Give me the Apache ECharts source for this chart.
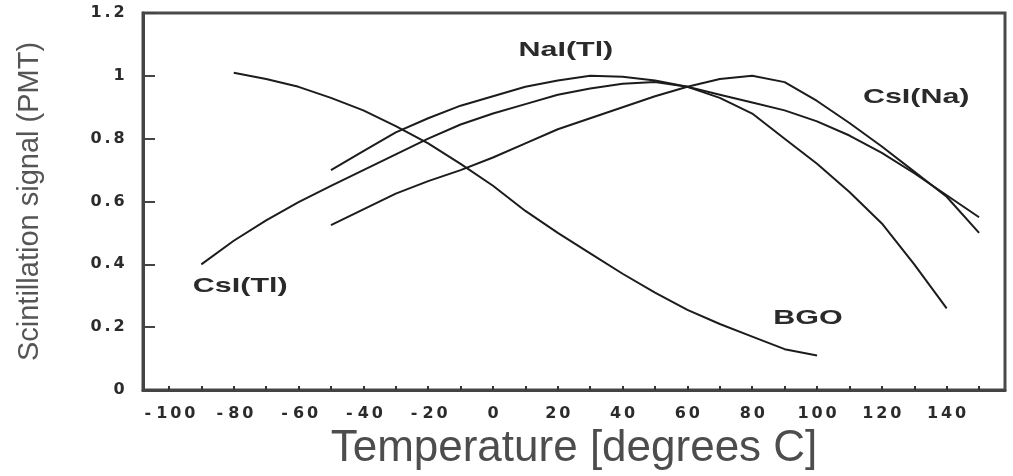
<!DOCTYPE html>
<html>
<head>
<meta charset="utf-8">
<script src="https://cdn.jsdelivr.net/npm/echarts@6/dist/echarts.min.js"></script>
<style>
  html, body { margin: 0; padding: 0; background: #ffffff; }
  #chart { width: 1013px; height: 476px; }
</style>
</head>
<body>
<div id="chart"></div>
<script>
// Relative scintillation signal (PMT) versus temperature for four crystals.
const csiTlTemps = [-90, -80, -70, -60, -50, -40, -30, -20, -10, 0, 10, 20, 30, 40, 50, 60, 70, 80, 90, 100, 110, 120, 130, 140];
const csiTlSignal = [0.40, 0.475, 0.54, 0.598, 0.65, 0.70, 0.75, 0.80, 0.845, 0.88, 0.91, 0.94, 0.96, 0.975, 0.98, 0.965, 0.93, 0.88, 0.80, 0.72, 0.63, 0.53, 0.40, 0.26];

const naiTlTemps = [-50, -40, -30, -20, -10, 0, 10, 20, 30, 40, 50, 60, 70, 80, 90, 100, 110, 120, 130, 140, 150];
const naiTlSignal = [0.70, 0.76, 0.82, 0.865, 0.905, 0.935, 0.965, 0.985, 1.0, 0.997, 0.985, 0.965, 0.94, 0.915, 0.89, 0.855, 0.81, 0.755, 0.69, 0.62, 0.55];

const csiNaTemps = [-50, -40, -30, -20, -10, 0, 10, 20, 30, 40, 50, 60, 70, 80, 90, 100, 110, 120, 130, 140, 150];
const csiNaSignal = [0.525, 0.575, 0.625, 0.665, 0.70, 0.74, 0.785, 0.83, 0.865, 0.90, 0.935, 0.965, 0.99, 1.0, 0.98, 0.92, 0.85, 0.775, 0.695, 0.615, 0.50];

const bgoTemps = [-80, -70, -60, -50, -40, -30, -20, -10, 0, 10, 20, 30, 40, 50, 60, 70, 80, 90, 100];
const bgoSignal = [1.01, 0.99, 0.965, 0.93, 0.89, 0.84, 0.785, 0.72, 0.65, 0.57, 0.50, 0.435, 0.37, 0.31, 0.255, 0.21, 0.17, 0.13, 0.11];

// Axis ticks and labels
const xLabelValues = [-100, -80, -60, -40, -20, 0, 20, 40, 60, 80, 100, 120, 140];
const xTickValues = [-100, -90, -80, -70, -60, -50, -40, -30, -20, -10, 0, 10, 20, 30, 40, 50, 60, 70, 80, 90, 100, 110, 120, 130, 140, 150];

// Curve names, and where each name sits in data units [temperature, signal]
const curveNames = ['CsI(Tl)', 'NaI(Tl)', 'CsI(Na)', 'BGO'];
const nameAnchors = [[-78, 0.331], [22.5, 1.08], [130.6, 0.933], [97.2, 0.229]];

const pairs = (xs, ys) => xs.map((x, i) => [x, ys[i]]);

// Tick labels are set with each character in its own fixed-width cell
const spaced = (v) => String(v).split('').map(ch => (ch === '.' ? '{p|.}' : '{d|' + ch + '}')).join('');
const tickFont = '"DejaVu Sans", Verdana, sans-serif';
const tickSize = 16;
const makeRich = (size) => {
  const base = { fontSize: size, fontWeight: 'bold', fontFamily: tickFont, color: '#2b2b2b', align: 'center', lineHeight: size + 1 };
  return { d: Object.assign({ width: 14 }, base), p: Object.assign({ width: 9 }, base) };
};

const lineColor = '#1c1c1c';
const makeSeries = (name, xs, ys) => ({
  name: name,
  type: 'line',
  data: pairs(xs, ys),
  showSymbol: false,
  symbol: 'none',
  smooth: false,
  lineStyle: { color: lineColor, width: 2 },
  silent: true,
  animation: false
});

const chart = echarts.init(document.getElementById('chart'), null, { renderer: 'canvas' });

chart.setOption({
  backgroundColor: '#ffffff',
  animation: false,
  grid: {
    left: 143, right: 8, top: 13, bottom: 86,
    show: true, borderColor: '#4a4a4a', borderWidth: 3, backgroundColor: 'transparent'
  },
  xAxis: {
    type: 'value',
    min: -108, max: 158,
    name: 'Temperature [degrees C]',
    nameLocation: 'middle',
    nameGap: 36,
    nameTextStyle: { fontSize: 44, color: '#4d4d4d', fontFamily: '"Liberation Sans", Arial, sans-serif' },
    axisLine: { show: true, onZero: false, lineStyle: { color: '#444', width: 3 } },
    axisTick: { show: true, inside: true, length: 4, customValues: xTickValues, lineStyle: { color: '#333', width: 2 } },
    axisLabel: { show: true, margin: 15, fontSize: tickSize, fontWeight: 'bold', fontFamily: tickFont, color: '#2b2b2b', customValues: xLabelValues, formatter: spaced, rich: makeRich(tickSize) },
    splitLine: { show: false }
  },
  yAxis: {
    type: 'value',
    min: 0, max: 1.2, interval: 0.2,
    name: 'Scintillation signal (PMT)',
    nameLocation: 'middle',
    nameGap: 99,
    nameRotate: 90,
    nameTextStyle: { fontSize: 29, color: '#555', fontFamily: '"Liberation Sans", Arial, sans-serif' },
    axisLine: { show: true, onZero: false, lineStyle: { color: '#444', width: 3 } },
    axisTick: { show: true, inside: true, length: 12, lineStyle: { color: '#444', width: 2 } },
    axisLabel: { show: true, margin: 17, fontSize: tickSize, fontWeight: 'bold', fontFamily: tickFont, color: '#2b2b2b', formatter: spaced, rich: makeRich(tickSize) },
    splitLine: { show: false }
  },
  series: [
    makeSeries(curveNames[0], csiTlTemps, csiTlSignal),
    makeSeries(curveNames[1], naiTlTemps, naiTlSignal),
    makeSeries(curveNames[2], csiNaTemps, csiNaSignal),
    makeSeries(curveNames[3], bgoTemps, bgoSignal)
  ]
});

// Curve names placed through the grid's own coordinate conversion
const nameGraphics = curveNames.map((name, i) => {
  const p = chart.convertToPixel({ gridIndex: 0 }, nameAnchors[i]);
  return {
    type: 'text',
    x: p[0], y: p[1],
    scaleX: 1.45, scaleY: 1,
    silent: true,
    style: {
      text: name,
      fill: '#2a2a2a',
      font: 'bold 21px "Liberation Sans", Arial, sans-serif',
      align: 'center', verticalAlign: 'middle',
      textAlign: 'center', textVerticalAlign: 'middle'
    }
  };
});
chart.setOption({ graphic: nameGraphics });
</script>
</body>
</html>
